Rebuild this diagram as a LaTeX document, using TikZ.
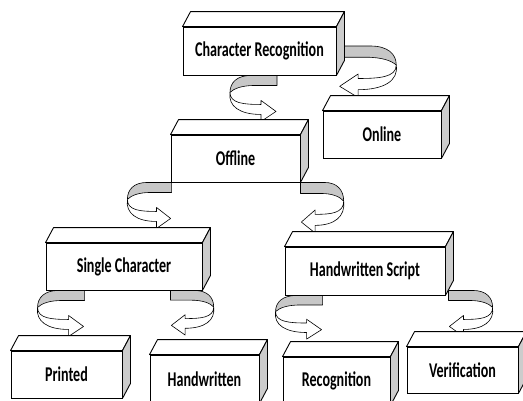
\documentclass[tikz,border=0pt]{standalone}
\usepackage{fontspec}
\newfontfamily\boxfont{Carlito}[FakeStretch=0.67]
\usetikzlibrary{backgrounds}

\tikzset{
    box/.style={draw, fill=white, line width=0.9pt, inner sep=0pt, minimum height=47pt,
        font=\boxfont\bfseries\fontsize{21}{21}\selectfont},
    face/.style={draw, line width=0.9pt, line join=round},
    ribbon/.style={draw, line width=0.6pt, line join=round},
    twist/.pic={
        \path[ribbon, fill=black!22] (0,0) -- (-26,0) .. controls (-40,0) and (-47,7) .. (-47,17)
            .. controls (-43,13) and (-35,10) .. (-22,10) -- (0,10) -- cycle;
        \path[ribbon, fill=white] (-47,17) .. controls (-47,28) and (-33,29) .. (-16,29)
            -- (-16,25) -- (-1,36) -- (-16,46) -- (-16,39)
            .. controls (-37,39) and (-49,31) .. (-47,17) -- cycle;
    }
}
\newcommand{\cuboid}[1]{%
    \draw[face, fill=white] (#1.north west) -- ++(8,-15) -- ([shift={(8,-15)}]#1.north east) -- (#1.north east) -- cycle;
    \draw[face, fill=black!20] (#1.north east) -- ++(8,-15) -- ([shift={(8,-15)}]#1.south east) -- (#1.south east) -- cycle;
}

\begin{document}
\begin{tikzpicture}[x=1pt, y=-1pt]
    \useasboundingbox (0,0) rectangle (523,400);
    \clip (0,0) rectangle (523,400);
    % boxes
    \node[box, minimum width=153pt, minimum height=48pt] (crec) at (259.5,51) {Character Recognition};
    \node[box, minimum width=118pt] (online) at (382,134.5) {Online};
    \node[box, minimum width=129pt] (offline) at (235.5,158.5) {Offline};
    \node[box, minimum width=156pt] (single) at (124,266.5) {Single Character};
    \node[box, minimum width=160pt, minimum height=48pt] (hscript) at (365,271) {Handwritten Script};
    \node[box, minimum width=111pt] (printed) at (66.5,374.5) {Printed};
    \node[box, minimum width=109pt, minimum height=48pt] (handw) at (204.5,379) {Handwritten};
    \node[box, minimum width=107pt, minimum height=48pt] (recog) at (336.5,381) {Recognition};
    \node[box, minimum width=111pt, minimum height=46pt] (verif) at (462.5,370) {Verification};
    \cuboid{crec} \cuboid{online} \cuboid{offline}
    \cuboid{single} \cuboid{hscript}
    \cuboid{printed} \cuboid{handw} \cuboid{recog} \cuboid{verif}
    % twisted arrows
    \begin{pgfonlayer}{background}
        \pic at ([xshift=17.5pt]crec.south) {twist};
        \pic[xscale=-1.23, yscale=1.12] at ([shift={(2,-5)}]crec.east) {twist};
        \pic[xscale=0.94] at ([xshift=1pt]offline.south west) {twist};
        \pic[xscale=-0.92, yscale=1.1] at (offline.south east) {twist};
        \pic at ([xshift=39pt]single.south west) {twist};
        \pic[xscale=-0.92, yscale=0.97] at ([xshift=-32pt]single.south east) {twist};
        \pic[yscale=0.95] at ([xshift=38pt]hscript.south west) {twist};
        \pic[xscale=-0.94] at ([shift={(3,-5)}]hscript.south east) {twist};
    \end{pgfonlayer}
\end{tikzpicture}
\end{document}
